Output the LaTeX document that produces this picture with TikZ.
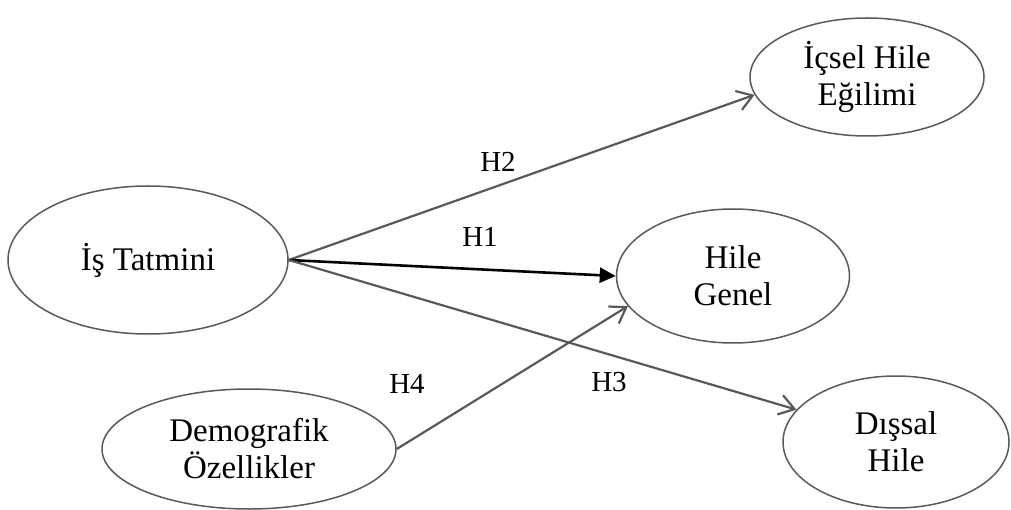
\documentclass[tikz,border=0pt]{standalone}
\usepackage{fontspec}
\setmainfont{Liberation Serif}
\usetikzlibrary{shapes.geometric,arrows.meta}
\definecolor{edgegray}{HTML}{595959}
\begin{document}
\begin{tikzpicture}[x=1pt,y=-1pt,
  construct/.style={ellipse,draw=edgegray,line width=1.5pt,inner sep=0pt,
    align=center,font=\fontsize{33}{37}\selectfont},
  pathlbl/.style={font=\fontsize{29}{31}\selectfont,inner sep=0pt},
  grayarrow/.style={draw=edgegray,line width=2.2pt,
    -{Straight Barb[length=15pt,width=20pt,line width=2.2pt]}},
  blackarrow/.style={draw=black,line width=2.6pt,
    -{Triangle[length=16pt,width=15pt]}}]
\useasboundingbox (0,0) rectangle (1011,510);

% constructs
\node[construct,minimum width=280pt,minimum height=148pt] (tat) at (148,260) {\raisebox{6pt}{İş Tatmini}};
\node[construct,minimum width=234pt,minimum height=118pt] (icsel) at (867,77) {İçsel Hile\\Eğilimi};
\node[construct,minimum width=233pt,minimum height=134pt] (genel) at (733,276) {Hile\\Genel};
\node[construct,minimum width=226pt,minimum height=132pt] (dissal) at (896,442) {Dışsal\\Hile};
\node[construct,minimum width=294pt,minimum height=120pt] (demo) at (249,449) {Demografik\\Özellikler};

% hypothesised paths
\draw[grayarrow] (tat.east) -- (icsel.189);
\draw[blackarrow] (tat.east) -- (genel.west);
\draw[grayarrow] (tat.east) -- (dissal.162);
\draw[grayarrow] (demo.east) -- (genel.196);

% path labels
\node[pathlbl] (h2) at (498,162) {H2};
\node[pathlbl] (h1) at (480,237) {H1};
\node[pathlbl] (h3) at (609,382) {H3};
\node[pathlbl] (h4) at (407,384) {H4};
\end{tikzpicture}
\end{document}
